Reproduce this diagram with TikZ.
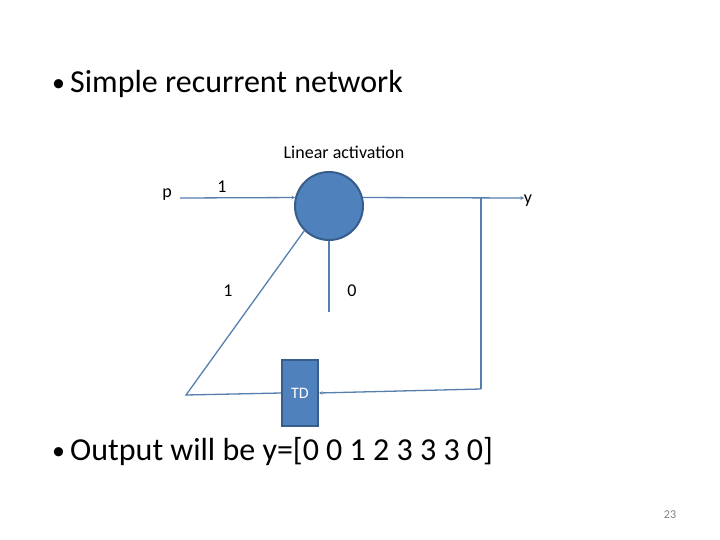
\documentclass[tikz,border=0pt]{standalone}
\usepackage{fontspec}
\setmainfont{Carlito}
\usetikzlibrary{arrows.meta}
\definecolor{nodefill}{HTML}{4F81BD}
\definecolor{nodeedge}{HTML}{385D8A}
\definecolor{wire}{HTML}{557FAE}
\tikzset{
  wireline/.style={draw=wire, line width=1.3pt},
  tip/.style={-{Stealth[length=3.5pt,width=3.5pt]}},
  lbl/.style={font=\fontsize{18}{20}\selectfont, inner sep=0pt},
  bullet/.style={font=\fontsize{32}{36}\selectfont, anchor=west, inner sep=0pt}
}
\begin{document}
\begin{tikzpicture}[x=1pt,y=-1pt]
\useasboundingbox (0,0) rectangle (720,540);
\fill[white] (0,0) rectangle (720,540);

\node[bullet, font=\fontsize{26}{28}\selectfont] (b1) at (52,86) {\textbullet};
\node[bullet] (t1) at (70,84) {Simple recurrent network};
\node[bullet, font=\fontsize{26}{28}\selectfont] (b2) at (52,454) {\textbullet};
\node[bullet] (t2) at (70,452) {Output will be y=[0 0 1 2 3 3 3 0]};

\node[circle, minimum size=68pt, inner sep=0pt, fill=nodefill, draw=nodeedge, line width=2pt] (c) at (329,206) {};
\node[rectangle, minimum width=36pt, minimum height=66pt, inner sep=0pt, fill=nodefill, draw=nodeedge, line width=2pt, text=white, font=\fontsize{16}{18}\selectfont] (td) at (300,393) {TD};

\coordinate (pin) at (180,198);
\coordinate (yout) at (524,198);
\coordinate (fb1) at (481,198);
\coordinate (fb2) at (481,389);
\coordinate (lc) at (186,395);
\coordinate (bend) at (329,312);

\draw[wireline, tip] (pin) -- (c.166);
\draw[wireline, tip] (c.14) -- (yout);
\draw[wireline] (fb1) -- (fb2);
\draw[wireline, tip] (fb2) -- (td.east);
\draw[wireline] (td.west) -- (lc) -- (c.225);
\draw[wireline] (c.south) -- (bend);

\node[lbl] (lin) at (344,152) {Linear activation};
\node[lbl] (lp) at (167,195) {p};
\node[lbl] (l1a) at (222,187) {1};
\node[lbl] (ly) at (528,201) {y};
\node[lbl] (l1b) at (228,291) {1};
\node[lbl] (l0) at (352,291) {0};
\node[font=\fontsize{12}{14}\selectfont, text=gray, inner sep=0pt] (pg) at (670,515) {23};
\end{tikzpicture}
\end{document}
